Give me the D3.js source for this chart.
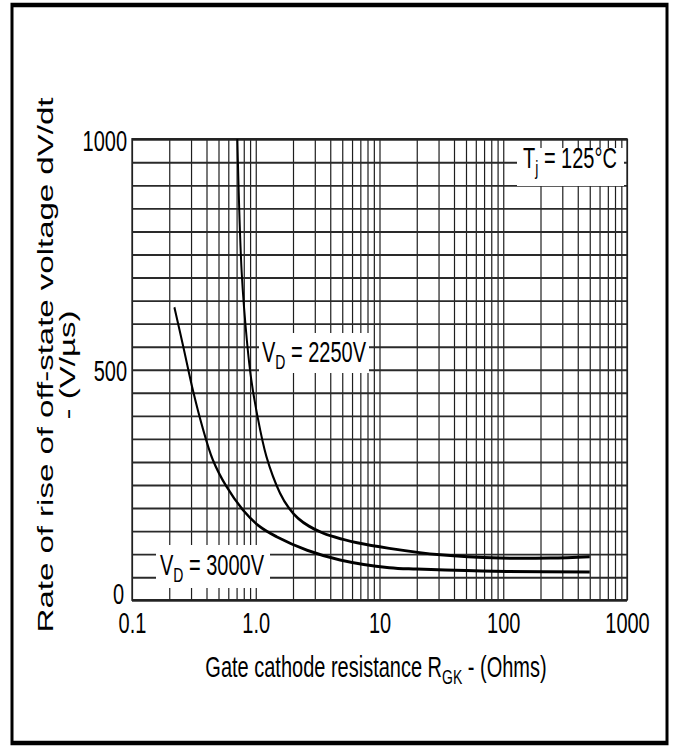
<!DOCTYPE html>
<html>
<head>
<meta charset="utf-8">
<script src="https://cdn.jsdelivr.net/npm/d3@7"></script>
<style>
  html, body { margin: 0; padding: 0; background: #fff; }
  svg { display: block; }
  text { font-family: "Liberation Sans", Arial, sans-serif; fill: #000; }
</style>
</head>
<body>
<div id="vis"></div>
<script>
// data
const rgk2250 = [0.71, 0.77, 0.85, 0.92, 1.02, 1.22, 1.57, 1.85, 2.2, 2.7, 3.5, 5, 6.6, 12, 31, 94, 240, 500];
const dvdt2250 = [1000, 710, 560, 478, 406, 311, 232, 200, 177, 160, 145, 132, 124, 112, 98, 91, 91, 94];
const rgk3000 = [0.22, 0.26, 0.31, 0.37, 0.45, 0.58, 0.79, 1.08, 1.48, 2.6, 4.8, 12, 20, 50, 107, 500];
const dvdt3000 = [635, 549, 456, 376, 304, 246, 195, 159, 137, 108, 87, 70, 67, 64, 62, 61];
const xTicks = [0.1, 1, 10, 100, 1000];
const xTickLabels = ["0.1", "1.0", "10", "100", "1000"];
const yTicks = [0, 500, 1000];

const width = 677;
const height = 746;
const S = 1.5;            // the original picture is stretched vertically
const ih = height / S;    // inner height in user units
const plot = { left: 132, right: 627, top: 139 / S, bottom: 600 / S };

const svg = d3.select("#vis").append("svg")
  .attr("width", width)
  .attr("height", height)
  .attr("viewBox", `0 0 ${width} ${ih}`)
  .attr("preserveAspectRatio", "none");

const x = d3.scaleLog().domain([0.1, 1000]).range([plot.left, plot.right]);
const y = d3.scaleLinear().domain([0, 1000]).range([plot.bottom, plot.top]);

// outer frame
svg.append("rect")
  .attr("x", 12).attr("y", 5 / S)
  .attr("width", 655).attr("height", (743 - 5) / S)
  .attr("fill", "none").attr("stroke", "#000").attr("stroke-width", 3);

// grid
const minor = [];
[0.1, 1, 10, 100].forEach(d => { for (let k = 1; k < 10; k++) minor.push(d * k); });
minor.push(1000);

const grid = svg.append("g").attr("class", "grid");
grid.append("g")
  .attr("transform", `translate(0,${plot.bottom})`)
  .call(d3.axisBottom(x).tickValues(minor).tickSize(-(plot.bottom - plot.top)).tickFormat(""))
  .call(g => g.select(".domain").remove())
  .call(g => g.selectAll("line").attr("stroke", "#1e1e1e").attr("stroke-width", 1.2));
grid.append("g")
  .attr("transform", `translate(${plot.left},0)`)
  .call(d3.axisLeft(y).tickValues(d3.range(0, 1001, 50)).tickSize(-(plot.right - plot.left)).tickFormat(""))
  .call(g => g.select(".domain").remove())
  .call(g => g.selectAll("line").attr("stroke", "#2a2a2a").attr("stroke-width", 1.25));

// plot border
svg.append("rect")
  .attr("x", plot.left).attr("y", plot.top)
  .attr("width", plot.right - plot.left).attr("height", plot.bottom - plot.top)
  .attr("fill", "none").attr("stroke", "#222").attr("stroke-width", 1.3);

// tick labels
svg.append("g")
  .attr("transform", `translate(0,${plot.bottom})`)
  .call(d3.axisBottom(x).tickValues(xTicks).tickSize(0).tickPadding(0)
    .tickFormat((d, i) => xTickLabels[i]))
  .call(g => g.select(".domain").remove())
  .call(g => g.selectAll("text")
    .attr("y", 0).attr("dy", 33 / S)
    .attr("font-size", 20).attr("font-family", "'Liberation Sans', Arial, sans-serif").attr("fill", "#000"));

svg.append("g")
  .attr("transform", `translate(${plot.left},0)`)
  .call(d3.axisLeft(y).tickValues(yTicks).tickSize(0).tickPadding(5).tickFormat(d3.format("d")))
  .call(g => g.select(".domain").remove())
  .call(g => g.selectAll("text")
    .attr("dy", d => d === 0 ? "0.1em" : "0.36em")
    .attr("x", d => d === 0 ? -8 : -5)
    .attr("font-size", 20).attr("font-family", "'Liberation Sans', Arial, sans-serif").attr("fill", "#000"));

// curves
const line = d3.line()
  .x(d => x(d[0]))
  .y(d => y(d[1]))
  .curve(d3.curveCatmullRom.alpha(0.5));

[[rgk2250, dvdt2250], [rgk3000, dvdt3000]].forEach(([xs, ys]) => {
  svg.append("path")
    .datum(xs.map((v, i) => [v, ys[i]]))
    .attr("d", line)
    .attr("fill", "none")
    .attr("stroke", "#000")
    .attr("stroke-width", 2);
});

// labels with white boxes
function boxLabel(bx0, by0, bx1, by1, tx, ty, main, sub, rest) {
  svg.append("rect")
    .attr("x", bx0).attr("y", by0 / S)
    .attr("width", bx1 - bx0).attr("height", (by1 - by0) / S)
    .attr("fill", "#fff");
  const t = svg.append("text").attr("x", tx).attr("y", ty / S).attr("font-size", 20);
  t.append("tspan").text(main);
  t.append("tspan").attr("font-size", 14).attr("dy", 4.5).text(sub);
  t.append("tspan").attr("dy", -4.5).text(rest);
}

boxLabel(517, 148, 624, 186, 523, 168, "T", "j", " = 125°C");
boxLabel(259, 333, 369, 373, 262, 362, "V", "D", " = 2250V");
boxLabel(156, 545, 270, 588, 160, 575, "V", "D", " = 3000V");

// axis titles
const xt = svg.append("text")
  .attr("x", 376).attr("y", 677 / S)
  .attr("text-anchor", "middle")
  .attr("font-size", 20);
xt.append("tspan").text("Gate cathode resistance R");
xt.append("tspan").attr("font-size", 14).attr("dy", 4.5).text("GK");
xt.append("tspan").attr("dy", -4.5).text(" - (Ohms)");

const yt = svg.append("g").attr("transform", `translate(0,${365 / S}) rotate(-90)`);
yt.append("text")
  .attr("x", 0).attr("y", 53)
  .attr("text-anchor", "middle")
  .attr("font-size", 22)
  .text("Rate of rise of off-state voltage dV/dt");
yt.append("text")
  .attr("x", 0).attr("y", 75)
  .attr("text-anchor", "middle")
  .attr("font-size", 22)
  .text("- (V/µs)");
</script>
</body>
</html>
